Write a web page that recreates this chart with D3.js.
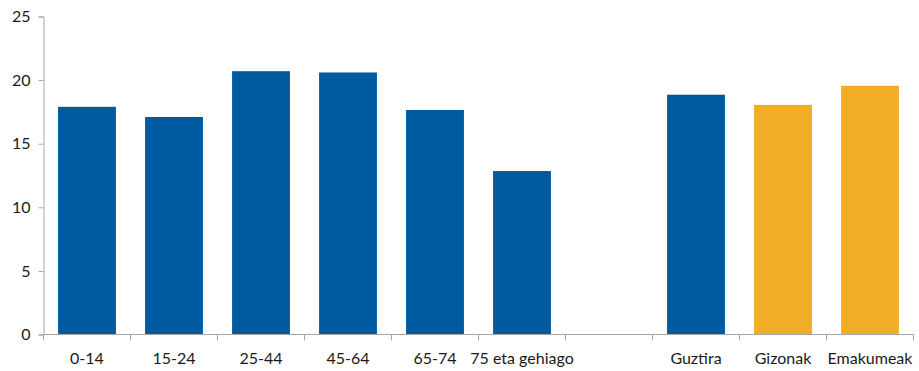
<!DOCTYPE html>
<html>
<head>
<meta charset="utf-8">
<script src="https://cdn.jsdelivr.net/npm/d3@7"></script>
<style>
  body { margin: 0; background: #fff; }
  svg text { font-family: "Lato", "Open Sans", sans-serif; font-size: 16px; fill: #1a1a1a; }
</style>
</head>
<body>
<svg id="chart" width="919" height="371"></svg>
<script>
// Age groups, a spacer slot, then totals by sex
const categories = ["0-14", "15-24", "25-44", "45-64", "65-74", "75 eta gehiago", "", "Guztira", "Gizonak", "Emakumeak"];
const values = [17.9, 17.1, 20.7, 20.6, 17.65, 12.85, null, 18.85, 18.05, 19.55];
const groups = ["age", "age", "age", "age", "age", "age", "none", "total", "sex", "sex"];
const yTicks = [0, 5, 10, 15, 20, 25];

const colors = { age: "#005aa0", total: "#005aa0", sex: "#f2ac28" };

const svg = d3.select("#chart");
const margin = { left: 43.5, right: 5.5, top: 16.5, bottom: 36.5 };
const width = 919, height = 371;

const x = d3.scaleBand()
  .domain(d3.range(categories.length))
  .range([margin.left, width - margin.right])
  .paddingInner(0.335)
  .paddingOuter(0.1675);

const y = d3.scaleLinear()
  .domain([0, 25])
  .range([height - margin.bottom, margin.top]);

// Bars
svg.append("g")
  .selectAll("rect")
  .data(values.map((v, i) => ({ v, i })).filter(d => d.v !== null))
  .join("rect")
  .attr("x", d => x(d.i))
  .attr("width", x.bandwidth())
  .attr("y", d => y(d.v))
  .attr("height", d => y(0) - y(d.v))
  .attr("fill", d => colors[groups[d.i]]);

// Y axis
const yAxis = svg.append("g")
  .attr("transform", `translate(${margin.left},0)`)
  .call(d3.axisLeft(y).tickValues(yTicks).tickSize(5).tickPadding(8));
yAxis.select(".domain").attr("stroke", "#a6a6a6");
yAxis.selectAll(".tick line").attr("stroke", "#a6a6a6");
yAxis.selectAll("text").attr("font-size", 16).attr("fill", "#1a1a1a")
  .attr("font-family", "Lato, 'Open Sans', sans-serif");

// X axis with ticks on category boundaries
const xAxisG = svg.append("g")
  .attr("transform", `translate(0,${y(0)})`);
const step = x.step();
const x0 = margin.left;
xAxisG.append("line")
  .attr("x1", x0).attr("x2", width - margin.right)
  .attr("stroke", "#a6a6a6");
xAxisG.selectAll("line.tk")
  .data(d3.range(categories.length + 1))
  .join("line")
  .attr("class", "tk")
  .attr("x1", i => x0 + i * step).attr("x2", i => x0 + i * step)
  .attr("y1", 0).attr("y2", 6)
  .attr("stroke", "#a6a6a6");
xAxisG.selectAll("text")
  .data(categories)
  .join("text")
  .attr("x", (d, i) => x(i) + x.bandwidth() / 2)
  .attr("y", 29)
  .attr("text-anchor", "middle")
  .text(d => d);
</script>
</body>
</html>
